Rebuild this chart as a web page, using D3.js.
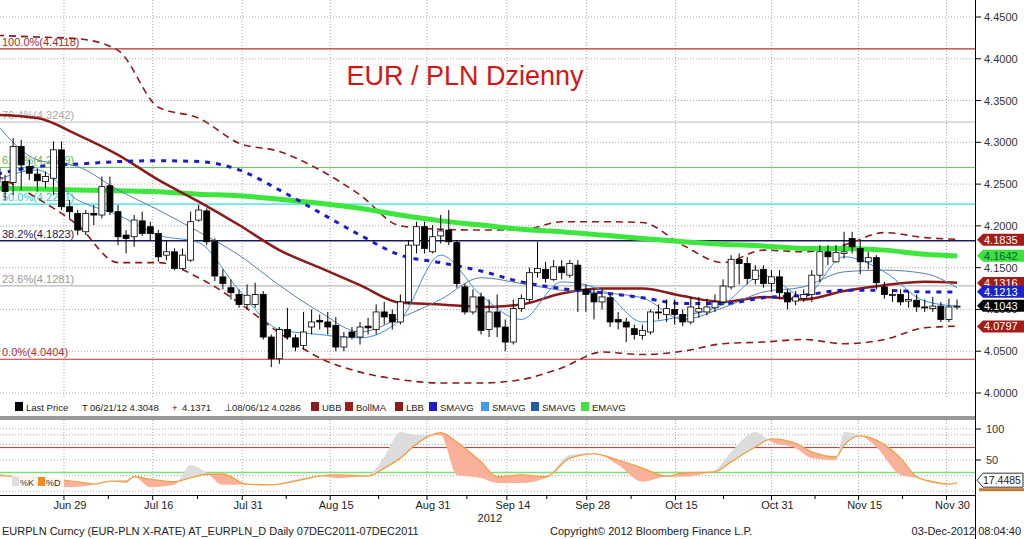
<!DOCTYPE html>
<html><head><meta charset="utf-8">
<script src="https://cdn.jsdelivr.net/npm/d3@7/dist/d3.min.js"></script>
<style>body{margin:0;background:#fff}svg{display:block}text{font-family:"Liberation Sans",Arial,sans-serif}</style>
</head><body><svg id="c" width="1024" height="539"></svg>
<script>
const open=[4.269,4.253,4.252,4.295,4.271,4.262,4.253,4.257,4.291,4.223,4.215,4.193,4.215,4.213,4.248,4.217,4.189,4.187,4.206,4.199,4.191,4.165,4.169,4.149,4.159,4.207,4.218,4.181,4.139,4.126,4.118,4.106,4.106,4.118,4.067,4.041,4.076,4.066,4.057,4.079,4.087,4.085,4.081,4.055,4.073,4.067,4.080,4.076,4.097,4.094,4.085,4.109,4.177,4.199,4.169,4.188,4.195,4.180,4.127,4.097,4.115,4.076,4.097,4.079,4.061,4.101,4.112,4.144,4.148,4.136,4.151,4.141,4.153,4.124,4.119,4.109,4.114,4.088,4.085,4.077,4.069,4.073,4.097,4.094,4.100,4.094,4.085,4.097,4.097,4.102,4.109,4.127,4.160,4.155,4.136,4.148,4.131,4.139,4.120,4.110,4.113,4.118,4.141,4.169,4.157,4.167,4.185,4.173,4.157,4.162,4.127,4.117,4.118,4.110,4.111,4.103,4.101,4.104,4.088,4.103];
const high=[4.279,4.261,4.305,4.303,4.279,4.269,4.265,4.301,4.301,4.231,4.219,4.219,4.225,4.259,4.259,4.225,4.195,4.213,4.217,4.205,4.195,4.183,4.173,4.173,4.217,4.225,4.221,4.185,4.148,4.136,4.124,4.130,4.132,4.122,4.070,4.079,4.102,4.070,4.097,4.100,4.094,4.097,4.091,4.073,4.079,4.085,4.090,4.106,4.109,4.100,4.118,4.183,4.205,4.205,4.201,4.213,4.219,4.183,4.131,4.124,4.120,4.112,4.118,4.088,4.112,4.118,4.150,4.181,4.157,4.159,4.159,4.159,4.159,4.130,4.124,4.124,4.120,4.097,4.090,4.082,4.082,4.100,4.106,4.112,4.112,4.100,4.115,4.115,4.113,4.118,4.136,4.165,4.167,4.163,4.153,4.153,4.147,4.147,4.124,4.122,4.124,4.147,4.177,4.177,4.177,4.193,4.193,4.183,4.169,4.165,4.133,4.124,4.124,4.122,4.118,4.112,4.115,4.109,4.113,4.112];
const low=[4.243,4.231,4.237,4.243,4.255,4.241,4.245,4.237,4.219,4.209,4.189,4.189,4.201,4.209,4.213,4.177,4.167,4.175,4.188,4.183,4.157,4.159,4.147,4.147,4.157,4.205,4.177,4.134,4.124,4.112,4.102,4.100,4.102,4.064,4.031,4.035,4.064,4.050,4.052,4.070,4.076,4.070,4.050,4.050,4.064,4.058,4.070,4.070,4.082,4.076,4.082,4.106,4.167,4.167,4.167,4.179,4.177,4.126,4.094,4.094,4.070,4.067,4.067,4.050,4.058,4.097,4.109,4.138,4.132,4.134,4.136,4.138,4.097,4.097,4.088,4.100,4.079,4.076,4.061,4.064,4.064,4.070,4.088,4.085,4.082,4.080,4.082,4.090,4.093,4.097,4.105,4.124,4.130,4.130,4.130,4.126,4.121,4.112,4.100,4.105,4.109,4.109,4.133,4.153,4.156,4.161,4.167,4.142,4.148,4.124,4.113,4.109,4.105,4.102,4.097,4.097,4.097,4.085,4.085,4.100];
const close=[4.252,4.241,4.295,4.273,4.263,4.254,4.259,4.291,4.223,4.217,4.195,4.215,4.213,4.247,4.217,4.187,4.185,4.207,4.191,4.191,4.163,4.169,4.149,4.165,4.205,4.219,4.181,4.140,4.131,4.120,4.106,4.117,4.118,4.067,4.041,4.076,4.067,4.055,4.073,4.085,4.085,4.079,4.055,4.067,4.067,4.079,4.078,4.097,4.091,4.085,4.109,4.177,4.199,4.173,4.187,4.194,4.181,4.131,4.097,4.115,4.075,4.097,4.079,4.061,4.101,4.113,4.144,4.149,4.137,4.151,4.144,4.155,4.124,4.118,4.109,4.115,4.085,4.085,4.079,4.070,4.075,4.097,4.096,4.101,4.094,4.085,4.103,4.101,4.103,4.109,4.128,4.160,4.155,4.137,4.147,4.131,4.139,4.120,4.109,4.115,4.118,4.141,4.169,4.163,4.168,4.169,4.175,4.157,4.162,4.132,4.118,4.118,4.109,4.112,4.103,4.102,4.104,4.088,4.103,4.104];

const indIdx=[0,5,10,15,20,25,30,35,40,45,50,55,60,65,70,75,80,85,90,95,100,105,110,115,119];
const emavg=[4.245,4.244,4.243,4.242,4.241,4.238,4.236,4.232,4.227,4.221,4.213,4.206,4.201,4.196,4.193,4.189,4.185,4.181,4.178,4.176,4.173,4.173,4.171,4.166,4.164];
const bollMA=[4.333,4.329,4.309,4.285,4.255,4.229,4.201,4.171,4.150,4.129,4.108,4.106,4.103,4.106,4.119,4.125,4.125,4.116,4.109,4.115,4.112,4.122,4.129,4.133,4.132];
const ubb=[4.428,4.426,4.424,4.410,4.342,4.329,4.299,4.289,4.267,4.237,4.200,4.196,4.195,4.195,4.205,4.205,4.204,4.177,4.156,4.171,4.169,4.177,4.192,4.186,4.184];
const lbb=[4.260,4.233,4.201,4.156,4.156,4.138,4.108,4.072,4.042,4.025,4.016,4.012,4.012,4.016,4.030,4.049,4.046,4.050,4.059,4.061,4.064,4.059,4.064,4.078,4.080];
const smaDash=[4.262,4.271,4.274,4.277,4.278,4.277,4.267,4.243,4.216,4.189,4.165,4.156,4.146,4.133,4.125,4.120,4.114,4.107,4.107,4.114,4.117,4.123,4.123,4.121,4.121];
const smaFast=[4.255,4.267,4.231,4.213,4.189,4.180,4.123,4.076,4.070,4.066,4.088,4.165,4.117,4.088,4.133,4.123,4.085,4.092,4.106,4.141,4.116,4.163,4.145,4.110,4.104];
const smaSlow=[4.321,4.279,4.271,4.243,4.219,4.193,4.165,4.129,4.097,4.073,4.090,4.112,4.138,4.131,4.123,4.120,4.114,4.088,4.102,4.121,4.127,4.145,4.147,4.143,4.126];

const stIdx=[0,4,8,11,12,14,16,17,19,22,24,26,28,31,34,37,40,42,46,48,50,52,55,57,60,62,65,68,71,74,77,80,83,85,89,91,94,96,99,101,104,105,107,109,112,114,116,118,119];
const stD=[25,22,18,13,11,16,16,23,19,15,21,27,27,11,10,16,24,26,24,37,53,76,94,79,47,23,26,23,53,60,50,37,24,29,31,47,71,84,77,63,55,74,89,82,53,23,15,11,13];
const stK=[30,15,6,8,11,16,13,23,6,10,42,29,10,10,10,19,24,21,26,55,95,90,90,26,21,13,13,21,58,61,42,15,23,23,34,63,95,79,69,53,50,95,90,71,26,21,13,10,15];

const fibs=[{l:"100.0%(4.4118)",v:4.4118,c:"#b03030",t:"#a03030"},{l:"76.4%(4.3242)",v:4.3242,c:"#c8c8c8",t:"#aaaaaa"},{l:"61.8%(4.2699)",v:4.2699,c:"#66cc66",t:"#55bb55"},{l:"50.0%(4.2261)",v:4.2261,c:"#33dddd",t:"#33cccc"},{l:"38.2%(4.1823)",v:4.1823,c:"#1a1a55",t:"#1a1a55"},{l:"23.6%(4.1281)",v:4.1281,c:"#b8b8b8",t:"#999999"},{l:"0.0%(4.0404)",v:4.0404,c:"#c03030",t:"#b03030"}];
const xTickIdx=[8.3,19.3,30.4,41.3,53.3,63.2,73.1,84.1,96,106.8,117.7];
const xTickLbl=["Jun 29","Jul 16","Jul 31","Aug 15","Aug 31","Sep 14","Sep 28","Oct 15","Oct 31","Nov 15","Nov 30"];
const yTicks=[4.00,4.05,4.10,4.15,4.20,4.25,4.30,4.35,4.40,4.45];
const tags=[{v:4.1835,bg:"#a31c1c",fg:"#fff"},{v:4.1642,bg:"#3de03d",fg:"#063"},{v:4.1316,bg:"#a31c1c",fg:"#fff"},{v:4.1213,bg:"#1a22cc",fg:"#fff"},{v:4.1043,bg:"#000",fg:"#fff"},{v:4.0797,bg:"#a31c1c",fg:"#fff"}];

const svg=d3.select("#c");
const X1=975;
const x=d3.scaleLinear().domain([0,119]).range([-3,957]);
const y=d3.scaleLinear().domain([4.0,4.45]).range([393,17]);
const ys=d3.scaleLinear().domain([0,100]).range([491,429]);
svg.append("defs").append("clipPath").attr("id","cp").append("rect").attr("x",0).attr("y",0).attr("width",X1).attr("height",398);

const g=svg.append("g");
[3.95,...yTicks].forEach(v=>g.append("line").attr("x1",0).attr("x2",X1).attr("y1",y(v)).attr("y2",y(v)).attr("stroke","#aaa").attr("stroke-dasharray","1,2"));
xTickIdx.forEach(i=>{g.append("line").attr("x1",x(i)).attr("x2",x(i)).attr("y1",0).attr("y2",398).attr("stroke","#aaa").attr("stroke-dasharray","1,2");
 g.append("line").attr("x1",x(i)).attr("x2",x(i)).attr("y1",420).attr("y2",495).attr("stroke","#aaa").attr("stroke-dasharray","1,2");});
[100,75,50,25,0].forEach(v=>g.append("line").attr("x1",0).attr("x2",X1).attr("y1",ys(v)).attr("y2",ys(v)).attr("stroke","#aaa").attr("stroke-dasharray","1,2"));

const m=svg.append("g").attr("clip-path","url(#cp)");
fibs.forEach(f=>{m.append("line").attr("x1",0).attr("x2",X1).attr("y1",y(f.v)).attr("y2",y(f.v)).attr("stroke",f.c).attr("stroke-width",f.v===4.1823?1.6:1.2);
 m.append("text").attr("x",2).attr("y",y(f.v)-3).attr("font-size",11).attr("fill",f.t).text(f.l);});

svg.append("text").attr("x",465).attr("y",85).attr("text-anchor","middle").attr("font-size",27).attr("fill","#d41515").text("EUR / PLN Dzienny");

const ln=(arr)=>d3.line().x((d,k)=>x(indIdx[k])).y(d=>y(d)).curve(d3.curveMonotoneX)(arr);
m.append("path").attr("d",ln(ubb)).attr("fill","none").attr("stroke","#8b1a1a").attr("stroke-width",1.6).attr("stroke-dasharray","7,5");
m.append("path").attr("d",ln(lbb)).attr("fill","none").attr("stroke","#8b1a1a").attr("stroke-width",1.6).attr("stroke-dasharray","7,5");
m.append("path").attr("d",ln(emavg)).attr("fill","none").attr("stroke","#3ce63c").attr("stroke-width",5);
m.append("path").attr("d",ln(bollMA)).attr("fill","none").attr("stroke","#8b1a1a").attr("stroke-width",2.5);
m.append("path").attr("d",ln(smaSlow)).attr("fill","none").attr("stroke","#5a7faa").attr("stroke-width",1);
m.append("path").attr("d",ln(smaFast)).attr("fill","none").attr("stroke","#3d8fdd").attr("stroke-width",1);
m.append("path").attr("d",ln(smaDash)).attr("fill","none").attr("stroke","#1c1ccc").attr("stroke-width",3).attr("stroke-dasharray","5,6");

const cg=m.append("g");
close.forEach((c,i)=>{const o=open[i],cx=x(i);
 cg.append("line").attr("x1",cx).attr("x2",cx).attr("y1",y(high[i])).attr("y2",y(low[i])).attr("stroke","#000").attr("stroke-width",1);
 const t=y(Math.max(o,c)),b=y(Math.min(o,c));
 cg.append("rect").attr("x",cx-3).attr("y",t).attr("width",6).attr("height",Math.max(1,b-t)).attr("fill",c>=o?"#fff":"#000").attr("stroke","#000").attr("stroke-width",0.8);});

svg.append("line").attr("x1",X1+0.5).attr("x2",X1+0.5).attr("y1",0).attr("y2",539).attr("stroke","#000");
yTicks.forEach(v=>{svg.append("line").attr("x1",X1).attr("x2",X1+6).attr("y1",y(v)).attr("y2",y(v)).attr("stroke","#000");
 svg.append("text").attr("x",984).attr("y",y(v)+4).attr("font-size",11).attr("fill","#333").text(v.toFixed(4));});
tags.forEach(t=>{const yy=y(t.v);
 svg.append("path").attr("d",`M${X1+2},${yy} L${X1+8},${yy-6} L1024,${yy-6} L1024,${yy+6} L${X1+8},${yy+6} Z`).attr("fill",t.bg);
 svg.append("text").attr("x",984).attr("y",yy+4).attr("font-size",11).attr("fill",t.fg).text(t.v.toFixed(4));});

const lg=svg.append("g").attr("font-size",9.5).attr("fill","#222");
const items=[["Last Price",26,"#000"],["06/21/12 4.3048",90,null],["4.1371",182,null],["08/06/12 4.0286",232,null],["UBB",322,"#8b1a1a"],["BollMA",356,"#a31c1c"],["LBB",406,"#8b1a1a"],["SMAVG",440,"#1c1ccc"],["SMAVG",492,"#3d9be8"],["SMAVG",542,"#1f5fa8"],["EMAVG",592,"#3ce63c"]];
items.forEach(([t,px,c])=>{if(c)lg.append("rect").attr("x",px-11).attr("y",402).attr("width",8).attr("height",9).attr("fill",c);lg.append("text").attr("x",px).attr("y",411).text(t);});
lg.append("text").attr("x",82).attr("y",411).text("T");lg.append("text").attr("x",172).attr("y",411).text("+");lg.append("text").attr("x",224).attr("y",411).text("⊥");
svg.append("rect").attr("x",0).attr("y",416).attr("width",X1).attr("height",4).attr("fill","#999");

const sl=svg.append("g");
sl.append("line").attr("x1",0).attr("x2",X1).attr("y1",ys(70)).attr("y2",ys(70)).attr("stroke","#c03030");
sl.append("line").attr("x1",0).attr("x2",X1).attr("y1",ys(30)).attr("y2",ys(30)).attr("stroke","#7ddc7d").attr("stroke-width",1.5);
const sx=k=>x(stIdx[k]);
const dLineAbove=d3.area().x((d,k)=>sx(k)).y0(420).y1(d=>ys(d)).curve(d3.curveMonotoneX);
const dLineBelow=d3.area().x((d,k)=>sx(k)).y0(495).y1(d=>ys(d)).curve(d3.curveMonotoneX);
const defs=svg.select("defs");
defs.append("clipPath").attr("id","ab").append("path").attr("d",dLineAbove(stD));
defs.append("clipPath").attr("id","be").append("path").attr("d",dLineBelow(stD));
const kd=d3.area().x((d,k)=>sx(k)).y0((d,k)=>ys(stD[k])).y1(d=>ys(d)).curve(d3.curveMonotoneX);
sl.append("path").attr("d",kd(stK)).attr("fill","#dcdcdc").attr("clip-path","url(#ab)");
sl.append("path").attr("d",kd(stK)).attr("fill","#fbb09a").attr("clip-path","url(#be)");
sl.append("path").attr("d",d3.line().x((d,k)=>sx(k)).y(d=>ys(d)).curve(d3.curveMonotoneX)(stD)).attr("fill","none").attr("stroke","#f0a040").attr("stroke-width",1.3);
sl.append("rect").attr("x",12).attr("y",475).attr("width",52).attr("height",15).attr("fill","#fff").attr("opacity",0.85);
sl.append("rect").attr("x",12).attr("y",477).attr("width",7).attr("height",9).attr("fill","#ddd");
sl.append("text").attr("x",20).attr("y",486).attr("font-size",9).attr("fill","#333").text("%K");
sl.append("rect").attr("x",38).attr("y",477).attr("width",7).attr("height",9).attr("fill","#f08a1a");
sl.append("text").attr("x",46).attr("y",486).attr("font-size",9).attr("fill","#333").text("%D");
[[100,"100"],[50,"50"]].forEach(([v,t])=>{svg.append("line").attr("x1",X1).attr("x2",X1+6).attr("y1",ys(v)).attr("y2",ys(v)).attr("stroke","#000");
 svg.append("text").attr("x",986).attr("y",ys(v)+4).attr("font-size",11).attr("fill","#333").text(t);});
const sy=ys(17.4485);
svg.append("path").attr("d",`M${X1+2},${sy} L${X1+8},${sy-7} L1023,${sy-7} L1023,${sy+7} L${X1+8},${sy+7} Z`).attr("fill","#fff").attr("stroke","#333");
svg.append("text").attr("x",983).attr("y",sy+4).attr("font-size",10.5).attr("fill","#222").text("17.4485");
svg.append("rect").attr("x",X1+4).attr("y",sy+8).attr("width",45).attr("height",3).attr("fill","#c87a30");

svg.append("line").attr("x1",0).attr("x2",X1).attr("y1",495.5).attr("y2",495.5).attr("stroke","#000");
xTickIdx.forEach((i,k)=>{svg.append("line").attr("x1",x(i)).attr("x2",x(i)).attr("y1",495).attr("y2",500).attr("stroke","#000");
 svg.append("text").attr("x",x(i)+6).attr("y",509).attr("text-anchor","middle").attr("font-size",11).attr("fill","#222").text(xTickLbl[k]);});
xTickIdx.slice(0,-1).forEach((i,k)=>{const mi=(i+xTickIdx[k+1])/2;svg.append("line").attr("x1",x(mi)).attr("x2",x(mi)).attr("y1",495).attr("y2",499).attr("stroke","#000");});
svg.append("text").attr("x",x(63.2)-17).attr("y",522).attr("text-anchor","middle").attr("font-size",11).attr("fill","#222").text("2012");
svg.append("text").attr("x",2).attr("y",535).attr("font-size",11).attr("fill","#222").text("EURPLN Curncy (EUR-PLN X-RATE) AT_EURPLN_D  Daily 07DEC2011-07DEC2011");
svg.append("text").attr("x",550).attr("y",535).attr("font-size",11).attr("fill","#222").text("Copyright© 2012 Bloomberg Finance L.P.");
svg.append("text").attr("x",1021).attr("y",535).attr("text-anchor","end").attr("font-size",11).attr("fill","#222").text("03-Dec-2012 08:04:40");
</script></body></html>
